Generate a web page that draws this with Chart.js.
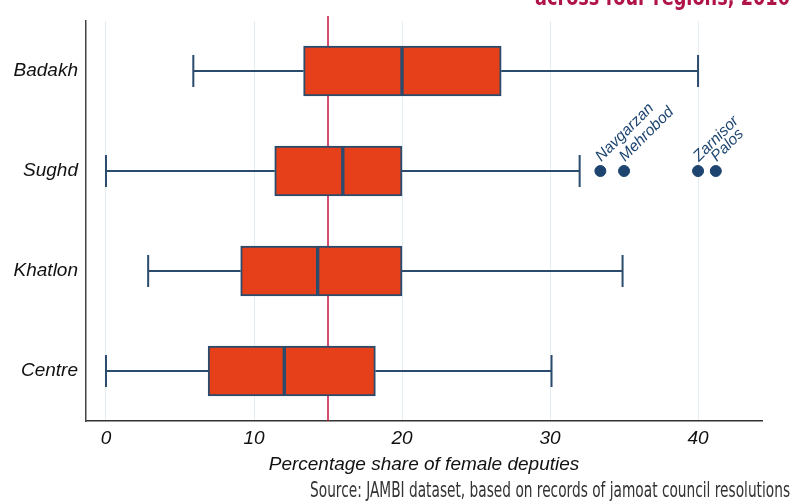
<!DOCTYPE html>
<html>
<head>
<meta charset="utf-8">
<script src="https://cdn.jsdelivr.net/npm/chart.js@4.4.1/dist/chart.umd.min.js"></script>
<style>
  html, body { margin: 0; padding: 0; background: #fff; }
  #wrap { position: relative; width: 797px; height: 502px; overflow: hidden; }
  #title {
    position: absolute; right: 7px; top: -14px;
    font: bold 23px 'Liberation Sans Narrow', 'DejaVu Sans Condensed', sans-serif;
    line-height: 22px; color: #b01346; white-space: nowrap;
    transform-origin: right center;
  }
  #source {
    position: absolute; right: 7px; top: 479px;
    font: 22px 'Liberation Sans Narrow', 'DejaVu Sans Condensed', sans-serif;
    line-height: 22px; color: #333; white-space: nowrap;
    transform-origin: right center;
  }
</style>
</head>
<body>
<div id="wrap">
  <canvas id="boxChart"></canvas>
  <div id="title">across four regions, 2016</div>
  <div id="source">Source: JAMBI dataset, based on records of jamoat council resolutions</div>
</div>
<script>
// data
const regions = ['Badakh', 'Sughd', 'Khatlon', 'Centre'];
const whiskerLow = [5.9, 0, 2.85, 0];
const q1 = [13.35, 11.4, 9.1, 6.9];
const median = [20, 16, 14.3, 12.05];
const q3 = [26.7, 20, 20, 18.2];
const whiskerHigh = [40, 32, 34.9, 30.1];

const outlierNames = ['Navgarzan', 'Mehrobod', 'Zarnisor', 'Palos'];
const outlierValues = [33.4, 35.0, 40.0, 41.2];
const outlierRegion = ['Sughd', 'Sughd', 'Sughd', 'Sughd'];

const referenceValue = 15;
const xTicks = [0, 10, 20, 30, 40];

// colours
const boxFill = '#e5401a';
const boxEdge = '#2b4b6d';
const dotColor = '#1d4570';
const refColor = '#c8123c';
const fontFamily = "'Liberation Sans', Arial, sans-serif";

// squeeze the html texts to their width in the picture
const fitWidth = (id, w) => {
  const el = document.getElementById(id);
  el.style.transform = 'scaleX(' + (w / el.offsetWidth) + ')';
};
fitWidth('title', 255);
fitWidth('source', 480);

//whiskers, caps, reference line and outlier names
const boxPlotExtras = {
  id: 'boxPlotExtras',
  beforeDatasetsDraw(chart) {
    const {ctx, chartArea, scales: {x, y}} = chart;
    ctx.save();
    ctx.strokeStyle = refColor;
    ctx.lineWidth = 1.5;
    const rx = x.getPixelForValue(referenceValue);
    ctx.beginPath();
    ctx.moveTo(rx, 16);
    ctx.lineTo(rx, chartArea.bottom);
    ctx.stroke();

    ctx.strokeStyle = boxEdge;
    ctx.lineWidth = 2;
    regions.forEach((r, i) => {
      const cy = y.getPixelForValue(i);
      const lo = x.getPixelForValue(whiskerLow[i]);
      const a = x.getPixelForValue(q1[i]);
      const b = x.getPixelForValue(q3[i]);
      const hi = x.getPixelForValue(whiskerHigh[i]);
      ctx.beginPath();
      ctx.moveTo(lo, cy); ctx.lineTo(a, cy);
      ctx.moveTo(b, cy); ctx.lineTo(hi, cy);
      ctx.moveTo(lo, cy - 16); ctx.lineTo(lo, cy + 16);
      ctx.moveTo(hi, cy - 16); ctx.lineTo(hi, cy + 16);
      ctx.stroke();
    });
    ctx.restore();
  },
  afterDatasetsDraw(chart) {
    const {ctx, scales: {x, y}} = chart;
    ctx.save();
    ctx.font = 'italic 15.5px ' + fontFamily;
    ctx.fillStyle = dotColor;
    ctx.textBaseline = 'alphabetic';
    outlierNames.forEach((name, i) => {
      const px = x.getPixelForValue(outlierValues[i]);
      const py = y.getPixelForValue(regions.indexOf(outlierRegion[i]));
      ctx.save();
      ctx.translate(px + 1, py - 9);
      ctx.rotate(-Math.PI / 4);
      ctx.fillText(name, 0, 0);
      ctx.restore();
    });
    ctx.restore();
  }
};

const tickFont = {family: fontFamily, size: 19, style: 'italic'};

const ctx = document.getElementById('boxChart');
const boxChart = new Chart(ctx, {
  type: 'bar',
  data: {
    labels: regions,
    datasets: [
      {
        label: 'q1-median',
        data: regions.map((r, i) => [q1[i], median[i]]),
        backgroundColor: boxFill,
        borderColor: boxEdge,
        borderWidth: 2,
        borderSkipped: false,
        barThickness: 50,
        grouped: false
      },
      {
        label: 'median-q3',
        data: regions.map((r, i) => [median[i], q3[i]]),
        backgroundColor: boxFill,
        borderColor: boxEdge,
        borderWidth: 2,
        borderSkipped: false,
        barThickness: 50,
        grouped: false
      },
      {
        type: 'scatter',
        label: 'outliers',
        data: outlierNames.map((n, i) => ({x: outlierValues[i], y: outlierRegion[i]})),
        backgroundColor: dotColor,
        borderColor: dotColor,
        pointRadius: 5.5,
        pointHoverRadius: 5.5
      }
    ]
  },
  options: {
    indexAxis: 'y',
    responsive: true,
    maintainAspectRatio: false,
    animation: false,
    layout: {padding: {left: 0, right: 35, top: 21, bottom: 0}},
    plugins: {
      legend: {display: false},
      tooltip: {enabled: false}
    },
    scales: {
      x: {
        type: 'linear',
        min: -1.35,
        max: 44.32,
        afterBuildTicks: (s) => { s.ticks = xTicks.map(v => ({value: v})); },
        afterFit: (s) => { s.height = 81; },
        grid: {color: '#e4edf2', drawTicks: false},
        border: {color: '#333', width: 1.5},
        ticks: {font: tickFont, color: '#111', padding: 6},
        title: {
          display: true,
          text: 'Percentage share of female deputies',
          font: tickFont,
          color: '#111',
          padding: {top: 0, bottom: 26}
        }
      },
      y: {
        type: 'category',
        afterFit: (s) => { s.width = 86; },
        grid: {display: false, drawTicks: false},
        border: {color: '#444', width: 1.5},
        ticks: {font: tickFont, color: '#111', padding: 8}
      }
    }
  },
  plugins: [boxPlotExtras]
});
</script>
</body>
</html>
